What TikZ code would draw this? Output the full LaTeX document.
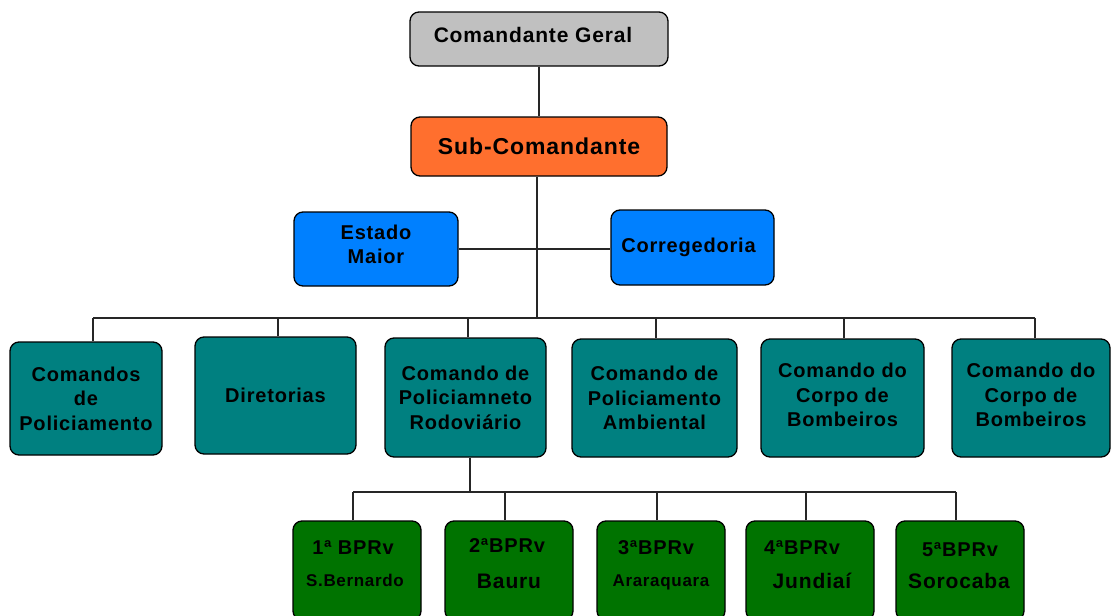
\documentclass[tikz,border=0pt]{standalone}
\usepackage{fontspec}
\setmainfont{Liberation Sans}[LetterSpace=4.0]
\definecolor{cgray}{HTML}{C0C0C0}
\definecolor{corange}{HTML}{FF6F2E}
\definecolor{cblue}{HTML}{0080FF}
\definecolor{cteal}{HTML}{008080}
\definecolor{cgreen}{HTML}{007300}
\begin{document}
\begin{tikzpicture}[x=1pt,y=-1pt,
  box/.style={draw=black, line width=1.3pt, rounded corners=9pt, align=center, inner sep=0pt,
    font=\bfseries\fontsize{20}{24.5}\selectfont},
  conn/.style={line width=1.2pt, draw=black!85},
  lbl/.style={font=\bfseries\fontsize{20}{24}\selectfont, inner sep=0pt, anchor=base},
  slbl/.style={font=\bfseries\fontsize{17}{20}\selectfont, inner sep=0pt, anchor=base}]
\useasboundingbox (0,0) rectangle (1112,616);
\clip (0,0) rectangle (1112,616);
\fill[white] (0,0) rectangle (1112,616);

% top
\node[box, fill=cgray, minimum width=258pt, minimum height=54pt,
  font=\bfseries\fontsize{21}{24}\selectfont] (geral) at (539,39) {Comandante Geral\hspace{12pt}\rule[-8pt]{0pt}{1pt}};
\node[box, fill=corange, minimum width=256pt, minimum height=59pt,
  font=\bfseries\fontsize{23}{28}\selectfont] (sub) at (539,146.5) {Sub-Comandante};
\node[box, fill=cblue, minimum width=164pt, minimum height=74pt] (estado) at (376,249) {Estado\\Maior\\[-15pt]};
\node[box, fill=cblue, minimum width=163pt, minimum height=75pt] (correg) at (692.5,247.5) {Corregedoria\hspace{8pt}};

% row 2
\node[box, fill=cteal, minimum width=152pt, minimum height=113pt] (c1) at (86,398.5) {Comandos\\de\\Policiamento};
\node[box, fill=cteal, minimum width=161pt, minimum height=117pt] (c2) at (275.5,395.5) {Diretorias};
\node[box, fill=cteal, minimum width=161pt, minimum height=119pt] (c3) at (465.5,397.5) {Comando de\\Policiamneto\\Rodoviário};
\node[box, fill=cteal, minimum width=165pt, minimum height=118pt] (c4) at (654.5,398) {Comando de\\Policiamento\\Ambiental};
\node[box, fill=cteal, minimum width=163pt, minimum height=118pt] (c5) at (842.5,398) {Comando do\\Corpo de\\Bombeiros\\[-18pt]};
\node[box, fill=cteal, minimum width=158pt, minimum height=118pt] (c6) at (1031,398) {Comando do\\Corpo de\\Bombeiros\\[-18pt]};

% row 3 boxes
\node[box, fill=cgreen, minimum width=128pt, minimum height=99pt] (b1) at (357,570.5) {};
\node[box, fill=cgreen, minimum width=128pt, minimum height=99pt] (b2) at (509,570.5) {};
\node[box, fill=cgreen, minimum width=128pt, minimum height=99pt] (b3) at (661,570.5) {};
\node[box, fill=cgreen, minimum width=128pt, minimum height=99pt] (b4) at (810,570.5) {};
\node[box, fill=cgreen, minimum width=128pt, minimum height=99pt] (b5) at (960,570.5) {};

% row 3 texts
\node[lbl] (t1a) at (353,554) {1ª BPRv};
\node[slbl] (t1b) at (355,586) {S.Bernardo};
\node[lbl] (t2a) at (507,552) {2ªBPRv};
\node[lbl, font=\bfseries\fontsize{21}{24}\selectfont] (t2b) at (509,588) {Bauru};
\node[lbl] (t3a) at (656,554) {3ªBPRv};
\node[slbl] (t3b) at (661,586) {Araraquara};
\node[lbl] (t4a) at (802,554) {4ªBPRv};
\node[lbl, font=\bfseries\fontsize{21}{24}\selectfont] (t4b) at (812,588) {Jundiaí};
\node[lbl] (t5a) at (960,556) {5ªBPRv};
\node[lbl, font=\bfseries\fontsize{21}{24}\selectfont] (t5b) at (959,588) {Sorocaba};

% connectors
\coordinate (bus) at (537,318);
\coordinate (bus3) at (470,492);
\draw[conn] (geral.south) -- (sub.north);
\draw[conn] (sub.south -| bus) -- (bus);
\draw[conn] (estado.east) -- (estado.east -| correg.west);
\draw[conn] ([xshift=7pt]c1.north |- bus) -- ([xshift=4pt]c6.north |- bus);
\foreach \n/\d in {c1/7, c2/2.5, c3/2.5, c4/1.5, c5/1.5, c6/4}{
  \draw[conn] ([xshift=\d pt]\n.north) -- ([xshift=\d pt]\n.north |- bus);
}
\draw[conn] (c3.south -| bus3) -- (bus3);
\draw[conn] ([xshift=-4pt]b1.north |- bus3) -- ([xshift=-4pt]b5.north |- bus3);
\foreach \n in {b1,b2,b3,b4,b5}{
  \draw[conn] ([xshift=-4pt]\n.north) -- ([xshift=-4pt]\n.north |- bus3);
}
\end{tikzpicture}
\end{document}
